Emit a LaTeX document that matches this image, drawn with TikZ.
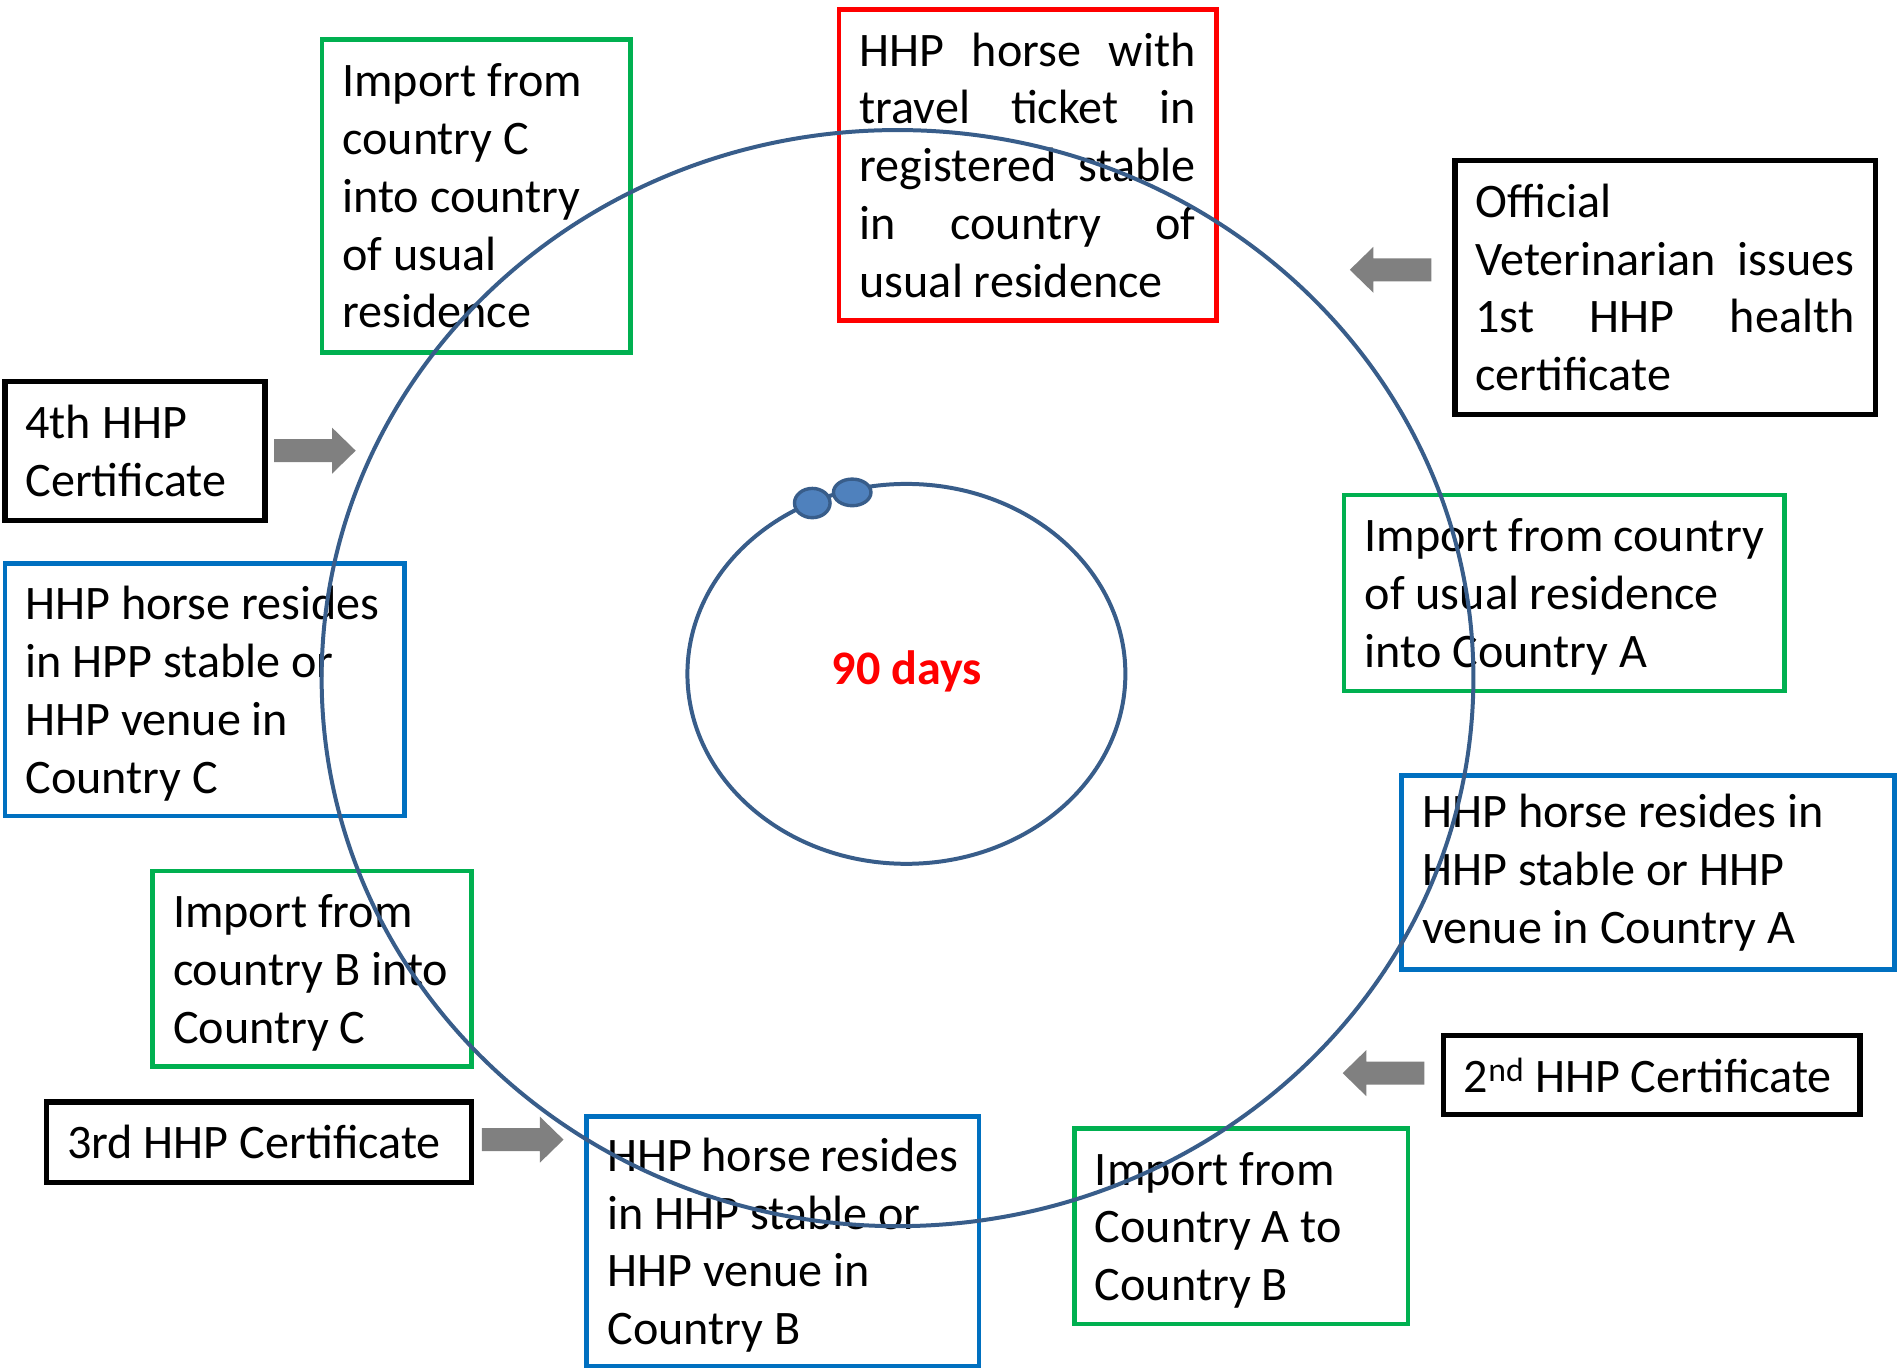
\documentclass[tikz,border=0pt]{standalone}
\usepackage{fontspec}
\setmainfont{Carlito}

\definecolor{boxgreen}{RGB}{0,176,80}
\definecolor{boxblue}{RGB}{0,112,192}
\definecolor{boxred}{RGB}{255,0,0}
\definecolor{ringblue}{RGB}{56,93,138}
\definecolor{dotblue}{RGB}{79,129,189}
\definecolor{arrowgray}{RGB}{128,128,128}

\tikzset{
  stage/.style={draw, align=flush left, inner xsep=17pt, inner ysep=0pt,
    font=\fontsize{39.8}{47.8}\selectfont},
  greenbox/.style={stage, draw=boxgreen, line width=3.8pt},
  bluebox/.style={stage, draw=boxblue, line width=3.8pt},
  redbox/.style={stage, draw=boxred, line width=3.8pt},
  certbox/.style={stage, draw=black, line width=4.5pt},
  ring/.style={draw=ringblue, line width=3.3pt},
  dot/.style={draw=ringblue, fill=dotblue, line width=2.8pt},
  pointer/.style={fill=arrowgray}
}
\newcommand{\spreadline}[1]{\makebox[\hsize][s]{#1}}
\newcommand{\lastline}[1]{\raisebox{0pt}[\height][0pt]{#1}}

\begin{document}
\begin{tikzpicture}[x=1pt, y=-1pt]
\useasboundingbox (0,0) rectangle (1568,1131);

%Stages of the journey
\node[redbox, text width=277.9pt, minimum height=257pt] (ticket) at (849.45,136.5)
  {\spreadline{HHP horse with}\\\spreadline{travel ticket in}\\\spreadline{registered stable}\\\spreadline{in country of}\\usual residence};
\node[greenbox, text width=330pt, minimum height=162pt] (impA) at (1293,490)
  {Import~from~country\\of usual residence\\\lastline{into Country A}};
\node[bluebox, text width=373.4pt, minimum height=160.5pt] (resA) at (1362.3,721.25)
  {HHP horse resides in\\HHP stable or HHP\\venue in Country A};
\node[greenbox, text width=241.7pt, minimum height=161.5pt] (impB) at (1025.85,1013.75)
  {Import from\\Country A to\\\lastline{Country B}};
\node[bluebox, text width=290.3pt, minimum height=206pt] (resB) at (647.15,1026)
  {HHP~horse~resides\\in HHP stable or\\HHP venue in\\\lastline{Country B}};
\node[greenbox, text width=229.6pt, minimum height=161.5pt] (impBC) at (257.8,800.75)
  {Import from\\country~B~into\\\lastline{Country C}};
\node[bluebox, text width=296.5pt, minimum height=208.7pt] (resC) at (169.25,570.05)
  {HHP horse resides\\in HPP stable or\\HHP venue in\\\lastline{Country C}};
\node[greenbox, text width=221pt, minimum height=259pt] (impC) at (393.5,162)
  {Import from\\country C\\into country\\of usual\\residence};

%Certificates
\node[certbox, text width=313.4pt, minimum height=209.7pt] (cert1) at (1376.3,237.65)
  {Official\\\spreadline{Veterinarian issues}\\\spreadline{1st HHP health}\\certificate};
\node[certbox, text width=310.5pt, minimum height=65.3pt] (cert2) at (1365.25,888.65)
  {2\textsuperscript{nd} HHP Certificate};
\node[certbox, text width=317pt, minimum height=66.6pt] (cert3) at (214.1,944)
  {3rd HHP Certificate};
\node[certbox, text width=181pt, minimum height=114.5pt] (cert4) at (111.5,372.75)
  {4th HHP\\Certificate};

%Block arrows
\foreach \tx/\ty/\d in {294/372.5/-1, 465.8/942/-1, 1115.7/223/1, 1109.8/887/1}
  \fill[pointer] (\tx,\ty) -- ++(\d*19.5,-19) -- ++(0,9.5) -- ++(\d*48,0)
    -- ++(0,19) -- ++(-\d*48,0) -- ++(0,9.5) -- cycle;

%Outer and inner cycle
\coordinate (hub) at (741.85,560.5);
\coordinate (core) at (749.2,557);
\draw[ring] (hub) ellipse [x radius=476pt, y radius=453pt];
\draw[ring] (core) ellipse [x radius=181pt, y radius=157pt];
\filldraw[dot] (671.4,415.8) ellipse [x radius=14.7pt, y radius=12.1pt];
\filldraw[dot] (704.4,407) ellipse [x radius=15.5pt, y radius=11pt];
\node[anchor=base, text=boxred, font=\fontsize{39.8}{47.8}\selectfont\bfseries] (days) at (749.5,566) {90 days};

\end{tikzpicture}
\end{document}
